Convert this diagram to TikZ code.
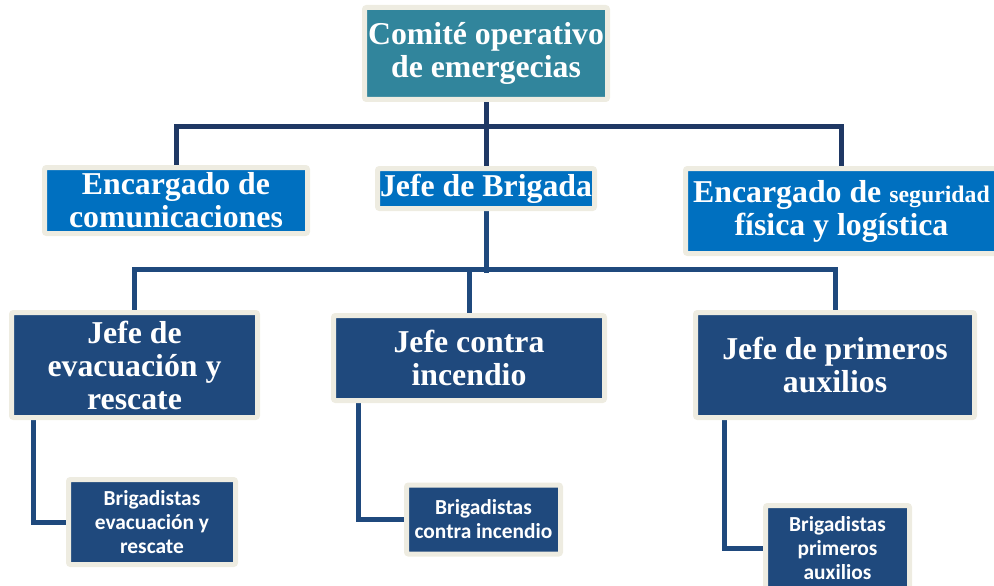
\documentclass[tikz,border=0pt]{standalone}
\usepackage{fontspec}
\setmainfont{Liberation Serif}
\newfontfamily\brigfont{Carlito}
\usetikzlibrary{backgrounds}
\definecolor{frame}{HTML}{EEECE1}
\definecolor{tealbox}{HTML}{31859C}
\definecolor{bluebox}{HTML}{0070C0}
\definecolor{navybox}{HTML}{1F497D}
\definecolor{linktop}{HTML}{1F3864}

\begin{document}
\begin{tikzpicture}[x=1pt, y=-1pt,
	box/.style={draw=frame, line width=5pt, rounded corners=2pt, inner sep=0pt,
		text=white, align=center, font=\bfseries\fontsize{31.8}{33}\selectfont},
	brig/.style={box, fill=navybox, font=\brigfont\bfseries\fontsize{21.4}{24}\selectfont},
	link/.style={line width=5pt, draw=navybox},
	linkup/.style={line width=5pt, draw=linktop}]
	\useasboundingbox (0,0) rectangle (994,586);

	% Level 1: committee
	\node[box, fill=tealbox, minimum width=243pt, minimum height=92pt] (comite) at (486,53.5)
		{Comité operativo\\de emergecias};

	% Level 2
	\node[box, fill=bluebox, minimum width=263pt, minimum height=66pt] (comunic) at (176,200.5)
		{Encargado de\\comunicaciones};
	\node[box, fill=bluebox, minimum width=217pt, minimum height=40pt] (brigada) at (486,188.5)
		{Jefe de Brigada};
	\node[box, fill=bluebox, minimum width=312pt, minimum height=85pt] (seguridad) at (841.5,211)
		{Encargado de {\fontsize{23.8}{33}\selectfont seguridad}\\física y logística};

	% Level 3: chiefs
	\node[box, fill=navybox, minimum width=246pt, minimum height=105pt] (evac) at (134.5,365)
		{Jefe de\\evacuación y\\rescate};
	\node[box, fill=navybox, minimum width=271pt, minimum height=85pt] (incendio) at (469,358)
		{Jefe contra\\incendio};
	\node[box, fill=navybox, minimum width=279pt, minimum height=105pt] (auxilios) at (835,365)
		{Jefe de primeros\\auxilios};

	% Level 4: brigades
	\node[brig, minimum width=167pt, minimum height=85pt] (bevac) at (152,522)
		{Brigadistas\\evacuación y\\rescate};
	\node[brig, minimum width=154pt, minimum height=69pt] (bincendio) at (483.5,519.5)
		{Brigadistas\\contra incendio};
	\node[brig, minimum width=144pt, minimum height=85pt] (bauxilios) at (837.5,548)
		{Brigadistas\\primeros\\auxilios};

	% connectors
	\coordinate (bus1) at (486,126);
	\coordinate (bus2) at (486,269);
	\begin{scope}[on background layer]
		\draw[linkup] (comite.south) -- (brigada.north);
		\draw[linkup] (comunic.north) |- (bus1) -| (seguridad.north);
		\draw[link] (brigada.south) -- ([yshift=-4pt]bus2);
		\draw[link] (evac.north) |- (bus2) -| (auxilios.north);
		\draw[link] (incendio.north) -- (incendio.north |- bus2);
		\draw[link] ([xshift=24.5pt]evac.south west) |- (bevac.west);
		\draw[link] ([xshift=27.5pt]incendio.south west) |- (bincendio.west);
		\draw[link] ([xshift=31.5pt]auxilios.south west) |- (bauxilios.west);
	\end{scope}
\end{tikzpicture}
\end{document}
